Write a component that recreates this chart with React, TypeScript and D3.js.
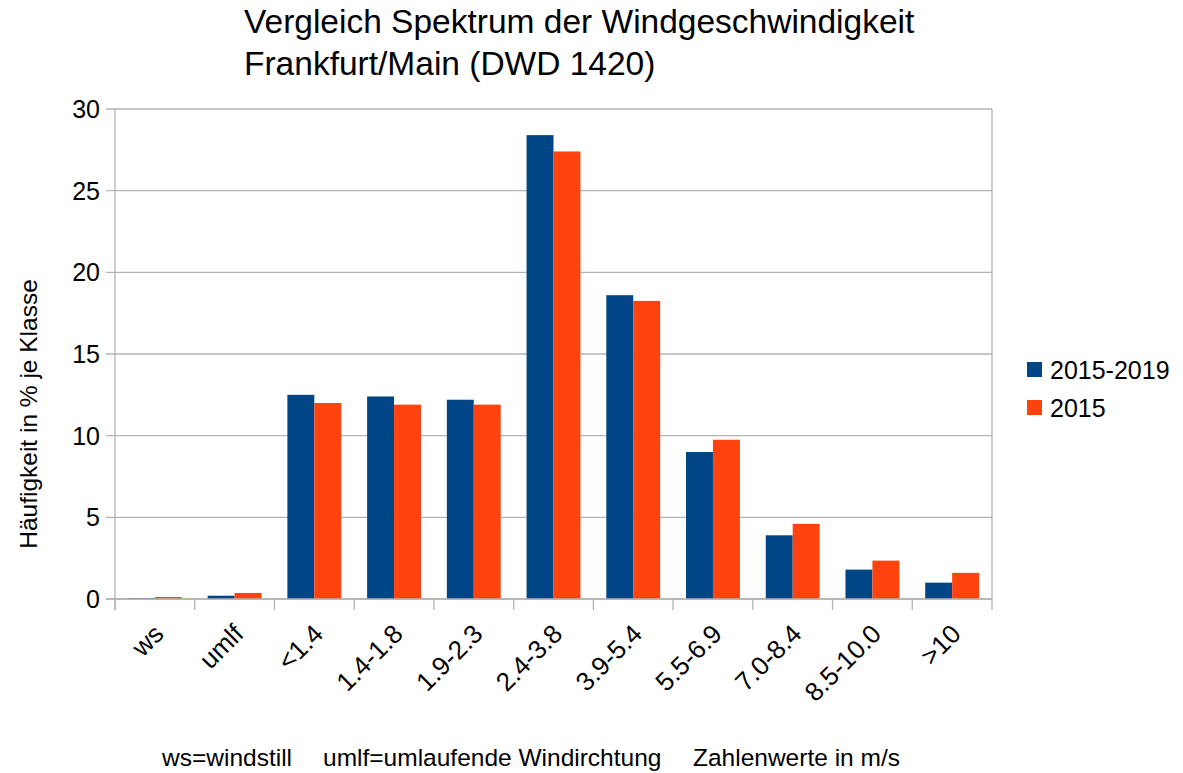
import React, { useRef, useEffect } from 'react';
import * as d3 from 'd3';

const categories = ['ws', 'umlf', '<1.4', '1.4-1.8', '1.9-2.3', '2.4-3.8', '3.9-5.4', '5.5-6.9', '7.0-8.4', '8.5-10.0', '>10'];
const seriesNames = ['2015-2019', '2015'];
const values5y = [0.05, 0.2, 12.5, 12.4, 12.2, 28.4, 18.6, 9.0, 3.9, 1.8, 1.0];
const values2015 = [0.12, 0.37, 12.0, 11.9, 11.9, 27.4, 18.25, 9.75, 4.6, 2.35, 1.6];
const yTicks = [0, 5, 10, 15, 20, 25, 30];
const colors = ['#004586', '#ff420e'];
const notes = ['ws=windstill', 'umlf=umlaufende Windirchtung', 'Zahlenwerte in m/s'];

const App = () => {
  const svgRef = useRef(null);

  useEffect(() => {
    document.body.style.margin = '0';
    const width = 1183;
    const height = 773;
    const margin = { top: 109, right: 191, bottom: 174, left: 115 };
    const font = 'Liberation Sans, Arial, sans-serif';

    const svg = d3.select(svgRef.current)
      .attr('width', width)
      .attr('height', height)
      .style('display', 'block')
      .style('font-family', font);
    svg.selectAll('*').remove();

    const x = d3.scaleBand()
      .domain(categories)
      .range([margin.left, width - margin.right]);

    const inner = d3.scaleBand()
      .domain(seriesNames)
      .range([0, x.bandwidth()])
      .paddingInner(0)
      .paddingOuter(0.48);

    const y = d3.scaleLinear()
      .domain([0, 30])
      .range([height - margin.bottom, margin.top]);

    const grid = '#b3b3b3';

    // grid lines
    svg.append('g')
      .selectAll('line')
      .data(yTicks)
      .enter().append('line')
      .attr('x1', margin.left - 9)
      .attr('x2', width - margin.right)
      .attr('y1', d => y(d))
      .attr('y2', d => y(d))
      .attr('stroke', grid)
      .attr('stroke-width', 1.3);

    // right border
    svg.append('line')
      .attr('x1', width - margin.right)
      .attr('x2', width - margin.right)
      .attr('y1', y(30))
      .attr('y2', y(0))
      .attr('stroke', grid)
      .attr('stroke-width', 1.3);

    // bars
    const series = [values5y, values2015];
    series.forEach((vals, si) => {
      svg.append('g')
        .selectAll('rect')
        .data(vals)
        .enter().append('rect')
        .attr('x', (d, i) => x(categories[i]) + inner(seriesNames[si]))
        .attr('width', inner.bandwidth())
        .attr('y', d => y(d))
        .attr('height', d => y(0) - y(d))
        .attr('fill', colors[si]);
    });

    // y axis
    svg.append('line')
      .attr('x1', margin.left)
      .attr('x2', margin.left)
      .attr('y1', y(30))
      .attr('y2', y(0) + 11)
      .attr('stroke', grid)
      .attr('stroke-width', 1.3);

    // x axis
    svg.append('line')
      .attr('x1', margin.left - 9)
      .attr('x2', width - margin.right)
      .attr('y1', y(0))
      .attr('y2', y(0))
      .attr('stroke', grid)
      .attr('stroke-width', 1.3);

    const bounds = categories.map(c => x(c)).concat([x.range()[1]]);
    svg.append('g')
      .selectAll('line')
      .data(bounds)
      .enter().append('line')
      .attr('x1', d => d)
      .attr('x2', d => d)
      .attr('y1', y(0))
      .attr('y2', y(0) + 11)
      .attr('stroke', grid)
      .attr('stroke-width', 1.3);

    svg.append('g')
      .selectAll('text')
      .data(yTicks)
      .enter().append('text')
      .attr('x', margin.left - 15)
      .attr('y', d => y(d))
      .attr('dy', '0.36em')
      .attr('font-size', 25)
      .attr('text-anchor', 'end')
      .attr('fill', '#000')
      .text(d => d);

    svg.append('g')
      .selectAll('text')
      .data(categories)
      .enter().append('text')
      .attr('transform', d => `translate(${x(d) + x.bandwidth() / 2 + 4}, ${y(0) + 30}) rotate(-45)`)
      .attr('text-anchor', 'end')
      .attr('dy', '0.35em')
      .attr('font-size', 26)
      .attr('fill', '#000')
      .text(d => d);

    // y title
    svg.append('text')
      .attr('transform', `translate(${28}, ${(y(0) + y(30)) / 2 + 60}) rotate(-90)`)
      .attr('text-anchor', 'middle')
      .attr('dy', '0.35em')
      .attr('font-size', 24.5)
      .attr('fill', '#000')
      .text('Häufigkeit in % je Klasse');

    // title
    const title = svg.append('text')
      .attr('font-size', 33.5)
      .attr('fill', '#000');
    title.append('tspan').attr('x', 244).attr('y', 33).text('Vergleich Spektrum der Windgeschwindigkeit');
    title.append('tspan').attr('x', 244).attr('y', 75).text('Frankfurt/Main (DWD 1420)');

    // legend
    const legend = svg.append('g')
      .selectAll('g')
      .data(seriesNames)
      .enter().append('g')
      .attr('transform', (d, i) => `translate(1027, ${362 + i * 38})`);
    legend.append('rect')
      .attr('width', 15)
      .attr('height', 15)
      .attr('fill', (d, i) => colors[i]);
    legend.append('text')
      .attr('x', 23)
      .attr('y', 8)
      .attr('dy', '0.36em')
      .attr('font-size', 25)
      .attr('fill', '#000')
      .text(d => d);

    // footer notes
    const noteX = [162, 323, 693];
    svg.append('g')
      .selectAll('text')
      .data(notes)
      .enter().append('text')
      .attr('x', (d, i) => noteX[i])
      .attr('y', 766)
      .attr('font-size', 24.5)
      .attr('fill', '#000')
      .text(d => d);
  }, []);

  return <svg ref={svgRef}></svg>;
};

export default App;
